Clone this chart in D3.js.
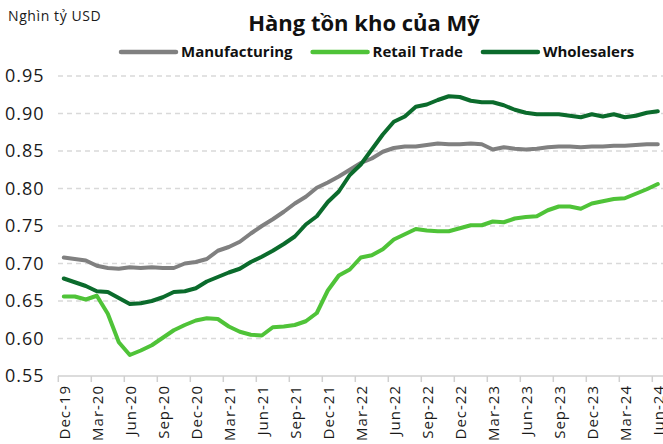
<!DOCTYPE html>
<html>
<head>
<meta charset="utf-8">
<script src="https://cdn.jsdelivr.net/npm/d3@7"></script>
<style>
  body { margin: 0; background: #fff; }
  svg { display: block; font-family: "Open Sans", "Noto Sans", sans-serif; }
</style>
</head>
<body>
<svg id="chart" width="663" height="444"></svg>
<script>
const months = [
  'Dec-19', 'Jan-20', 'Feb-20', 'Mar-20', 'Apr-20', 'May-20', 'Jun-20', 'Jul-20', 'Aug-20', 'Sep-20', 'Oct-20', 'Nov-20',
  'Dec-20', 'Jan-21', 'Feb-21', 'Mar-21', 'Apr-21', 'May-21', 'Jun-21', 'Jul-21', 'Aug-21', 'Sep-21', 'Oct-21', 'Nov-21',
  'Dec-21', 'Jan-22', 'Feb-22', 'Mar-22', 'Apr-22', 'May-22', 'Jun-22', 'Jul-22', 'Aug-22', 'Sep-22', 'Oct-22', 'Nov-22',
  'Dec-22', 'Jan-23', 'Feb-23', 'Mar-23', 'Apr-23', 'May-23', 'Jun-23', 'Jul-23', 'Aug-23', 'Sep-23', 'Oct-23', 'Nov-23',
  'Dec-23', 'Jan-24', 'Feb-24', 'Mar-24', 'Apr-24', 'May-24', 'Jun-24'
];

const manufacturing = [
  0.708, 0.706, 0.704, 0.697, 0.694, 0.693, 0.695, 0.694, 0.695, 0.694, 0.694, 0.700,
  0.702, 0.706, 0.717, 0.722, 0.729, 0.740, 0.750, 0.759, 0.769, 0.780, 0.789, 0.801,
  0.808, 0.816, 0.825, 0.834, 0.840, 0.849, 0.854, 0.856, 0.856, 0.858, 0.860, 0.859,
  0.859, 0.860, 0.859, 0.852, 0.855, 0.853, 0.852, 0.853, 0.855, 0.856, 0.856, 0.855,
  0.856, 0.856, 0.857, 0.857, 0.858, 0.859, 0.859
];

const retailTrade = [
  0.656, 0.656, 0.652, 0.657, 0.633, 0.595, 0.578, 0.584, 0.591, 0.601, 0.611, 0.618,
  0.624, 0.627, 0.626, 0.616, 0.609, 0.605, 0.604, 0.615, 0.616, 0.618, 0.623, 0.634,
  0.664, 0.684, 0.692, 0.708, 0.711, 0.719, 0.732, 0.739, 0.746, 0.744, 0.743, 0.743,
  0.747, 0.751, 0.751, 0.756, 0.755, 0.760, 0.762, 0.763, 0.771, 0.776, 0.776, 0.773,
  0.780, 0.783, 0.786, 0.787, 0.793, 0.799, 0.806
];

const wholesalers = [
  0.680, 0.675, 0.670, 0.663, 0.662, 0.654, 0.646, 0.647, 0.650, 0.655, 0.662, 0.663,
  0.667, 0.676, 0.682, 0.688, 0.693, 0.702, 0.709, 0.717, 0.726, 0.736, 0.752, 0.763,
  0.782, 0.796, 0.818, 0.832, 0.852, 0.872, 0.889, 0.896, 0.909, 0.912, 0.918, 0.923,
  0.922, 0.917, 0.915, 0.915, 0.911, 0.905, 0.901, 0.899, 0.899, 0.899, 0.897, 0.895,
  0.899, 0.896, 0.899, 0.895, 0.897, 0.901, 0.903
];

const yTicks = [0.55, 0.60, 0.65, 0.70, 0.75, 0.80, 0.85, 0.90, 0.95];

const series = [
  { name: 'Manufacturing', values: manufacturing, color: '#808080' },
  { name: 'Retail Trade', values: retailTrade, color: '#4fc338' },
  { name: 'Wholesalers', values: wholesalers, color: '#0b6b2c' }
];

const svg = d3.select('#chart');

const x = d3.scaleBand()
  .domain(months)
  .range([58.3, 663.3])
  .padding(0);

const y = d3.scaleLinear()
  .domain([0.55, 0.95])
  .range([376, 76]);

const cx = d => x(d) + x.bandwidth() / 2;

// gridlines (dashed), skip the bottom one which is the axis
svg.append('g')
  .selectAll('line')
  .data(yTicks.filter(t => t > 0.55))
  .join('line')
  .attr('x1', 58)
  .attr('x2', 663)
  .attr('y1', d => y(d))
  .attr('y2', d => y(d))
  .attr('stroke', '#d9d9d9')
  .attr('stroke-width', 1.5)
  .attr('stroke-dasharray', '5,4');

// y labels
svg.append('g')
  .selectAll('text')
  .data(yTicks)
  .join('text')
  .attr('x', 5)
  .attr('y', d => y(d))
  .attr('dy', '0.36em')
  .attr('font-size', 18)
  .attr('letter-spacing', 1)
  .attr('fill', '#1a1a1a')
  .text(d => d.toFixed(2));

// x axis
const tickMonths = months.filter((m, i) => i % 3 === 0);

const xAxis = svg.append('g');
xAxis.append('line')
  .attr('x1', 58)
  .attr('x2', 663)
  .attr('y1', 376)
  .attr('y2', 376)
  .attr('stroke', '#d0d0d0')
  .attr('stroke-width', 1.5);

xAxis.selectAll('line.tick')
  .data(tickMonths)
  .join('line')
  .attr('class', 'tick')
  .attr('x1', d => x(d))
  .attr('x2', d => x(d))
  .attr('y1', 376)
  .attr('y2', 382)
  .attr('stroke', '#d0d0d0')
  .attr('stroke-width', 1.5);

xAxis.selectAll('text')
  .data(tickMonths)
  .join('text')
  .attr('transform', d => `translate(${cx(d) + 1},385) rotate(-90)`)
  .attr('text-anchor', 'end')
  .attr('dy', '0.36em')
  .attr('font-size', 15)
  .attr('letter-spacing', 1)
  .attr('fill', '#1a1a1a')
  .text(d => d);

// lines
const line = d3.line()
  .x((d, i) => cx(months[i]))
  .y(d => y(d));

svg.append('g')
  .selectAll('path')
  .data(series)
  .join('path')
  .attr('d', d => line(d.values))
  .attr('fill', 'none')
  .attr('stroke', d => d.color)
  .attr('stroke-width', 4)
  .attr('stroke-linejoin', 'round')
  .attr('stroke-linecap', 'round');

// titles
svg.append('text')
  .attr('x', 8)
  .attr('y', 21)
  .attr('font-size', 14)
  .attr('letter-spacing', 0.6)
  .attr('fill', '#1a1a1a')
  .text('Nghìn tỷ USD');

svg.append('text')
  .attr('x', 364)
  .attr('y', 31)
  .attr('text-anchor', 'middle')
  .attr('font-size', 22)
  .attr('font-weight', 'bold')
  .attr('fill', '#111')
  .text('Hàng tồn kho của Mỹ');

// legend
const legend = svg.append('g');
const swatchW = 55;
let lx = 121;
series.forEach(s => {
  legend.append('line')
    .attr('x1', lx)
    .attr('x2', lx + swatchW)
    .attr('y1', 52)
    .attr('y2', 52)
    .attr('stroke', s.color)
    .attr('stroke-width', 4.5)
    .attr('stroke-linecap', 'round');
  const t = legend.append('text')
    .attr('x', lx + swatchW + 5)
    .attr('y', 57)
    .attr('font-size', 15)
    .attr('font-weight', 'bold')
    .attr('fill', '#111')
    .text(s.name);
  lx += swatchW + 5 + t.node().getComputedTextLength() + 20;
});
</script>
</body>
</html>
